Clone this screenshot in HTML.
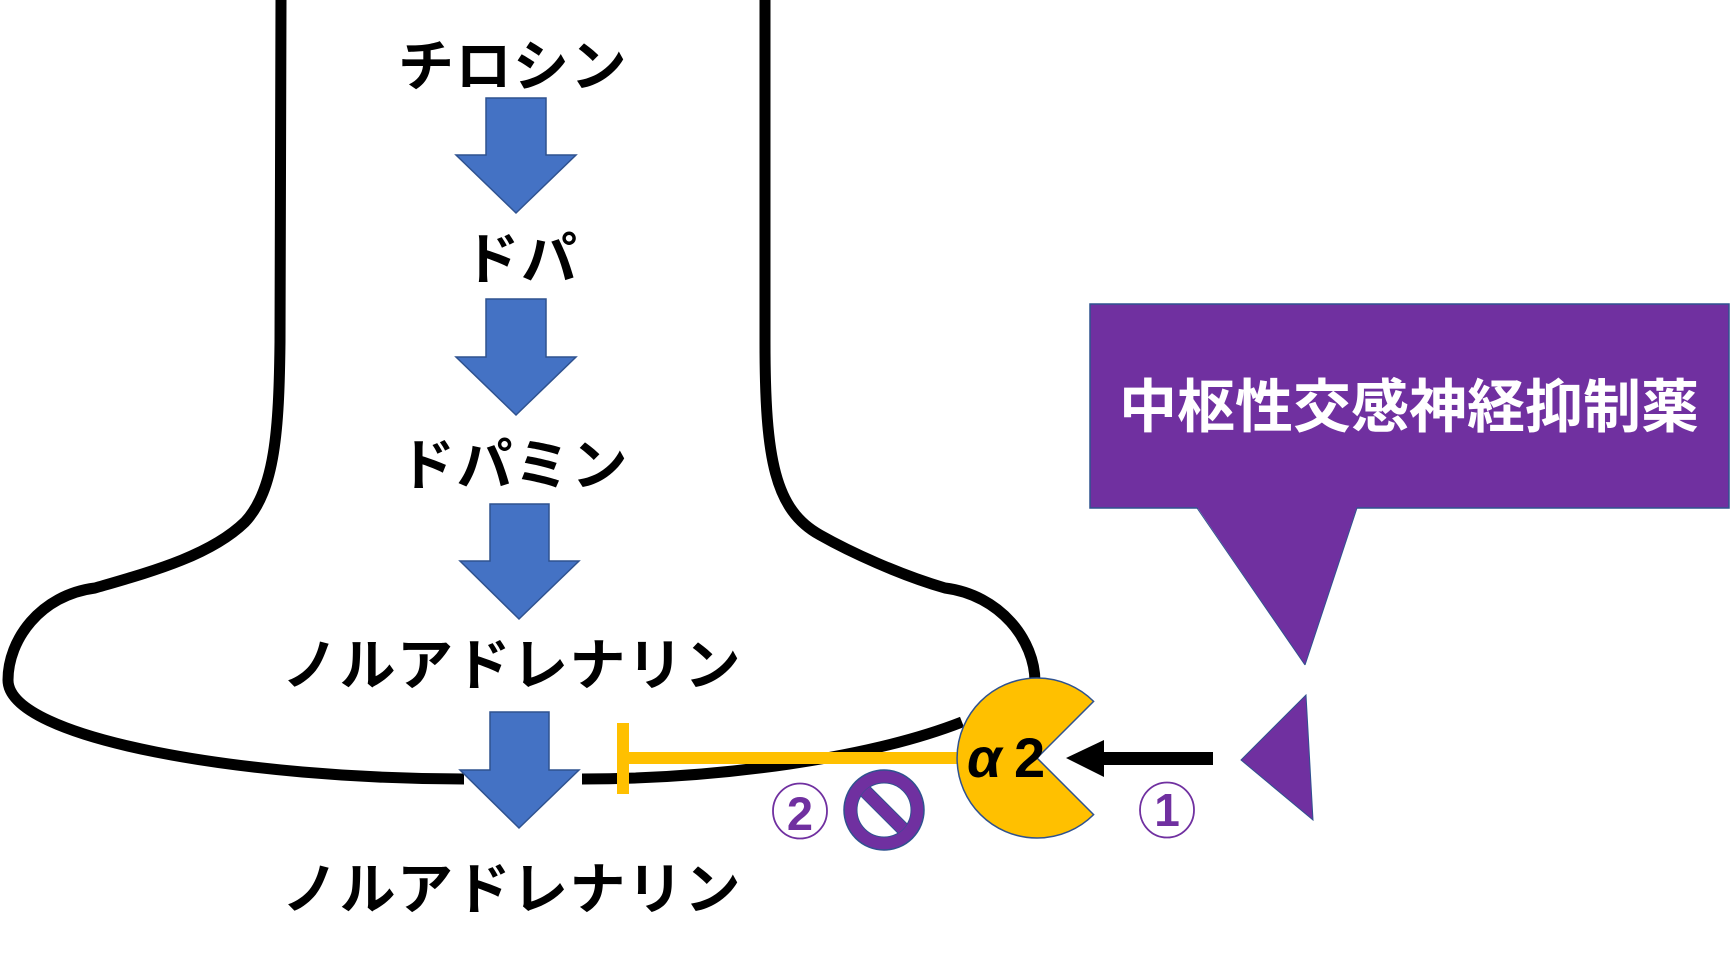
<!DOCTYPE html>
<html>
<head>
<meta charset="utf-8">
<style>
  html,body{margin:0;padding:0;background:#fff;}
  svg{display:block;}
  .kt{font-family:"Liberation Sans","Noto Sans CJK JP",sans-serif;font-weight:bold;font-size:56px;fill:#000;letter-spacing:1.5px;}
</style>
</head>
<body>
<svg width="1732" height="962" viewBox="0 0 1732 962" xmlns="http://www.w3.org/2000/svg">
  <rect width="1732" height="962" fill="#fff"/>

  <!-- neuron outline -->
  <g fill="none" stroke="#000" stroke-width="11">
    <path d="M281 0 L280 342 C279 430 275 490 245 522 C210 556 150 572 95 588 C40 595 8 640 8 680 C8 740 250 779 464 779"/>
    <path d="M582 779 C720 779 870 758 962 722"/>
    <path d="M765 0 L765 342 C765 460 775 510 820 535 C850 552 900 575 945 588 C1000 595 1035 640 1035 682"/>
  </g>

  <!-- blue block arrows -->
  <g fill="#4472C4" stroke="#2F528F" stroke-width="1.5">
    <polygon points="486,98 546,98 546,155 576,155 516,213 456,155 486,155"/>
    <polygon points="486,299 546,299 546,357 576,357 516,415 456,357 486,357"/>
    <polygon points="490,504 549,504 549,561 579,561 519,619 460,561 490,561"/>
    <polygon points="490,712 549,712 549,770 579,770 519,828 460,770 490,770"/>
  </g>

  <!-- katakana labels -->
  <text class="kt" x="513" y="86" text-anchor="middle">チロシン</text>
  <text class="kt" x="521" y="279" text-anchor="middle">ドパ</text>
  <text class="kt" x="514" y="485" text-anchor="middle">ドパミン</text>
  <text class="kt" x="512" y="685" text-anchor="middle">ノルアドレナリン</text>
  <text class="kt" x="512" y="909" text-anchor="middle">ノルアドレナリン</text>

  <!-- yellow inhibition T -->
  <rect x="617" y="723" width="12" height="71" fill="#FFC000"/>
  <rect x="617" y="752" width="345" height="12" fill="#FFC000"/>

  <!-- alpha2 receptor -->
  <path d="M1037 758 L1093.6 701.4 A80 80 0 1 0 1093.6 814.6 Z" fill="#FFC000" stroke="#2F528F" stroke-width="1.5"/>
  <text x="967" y="777" font-family="Liberation Sans, Noto Sans CJK JP, sans-serif" font-size="56" font-weight="bold" font-style="italic" fill="#000">α</text>
  <text x="1014" y="777" font-family="Liberation Sans, Noto Sans CJK JP, sans-serif" font-size="56" font-weight="bold" fill="#000">2</text>

  <!-- black arrow -->
  <rect x="1102" y="752" width="111" height="13" fill="#000"/>
  <polygon points="1066,758 1104,740 1104,777" fill="#000"/>

  <!-- circled numbers -->
  <ellipse cx="800" cy="811" rx="27" ry="27.5" fill="none" stroke="#7030A0" stroke-width="1.8"/>
  <text x="800" y="830" text-anchor="middle" font-family="Liberation Sans, sans-serif" font-weight="bold" font-size="47" fill="#7030A0">2</text>
  <ellipse cx="1167" cy="810" rx="27" ry="27.5" fill="none" stroke="#7030A0" stroke-width="1.8"/>
  <text x="1167" y="826" text-anchor="middle" font-family="Liberation Sans, sans-serif" font-weight="bold" font-size="46" fill="#7030A0">1</text>

  <!-- prohibition sign -->
  <defs>
    <clipPath id="hole"><circle cx="884" cy="810" r="27"/></clipPath>
  </defs>
  <circle cx="884" cy="810" r="40" fill="#7030A0" stroke="#2F528F" stroke-width="1.5"/>
  <circle cx="884" cy="810" r="27" fill="#fff" stroke="#2F528F" stroke-width="1"/>
  <g clip-path="url(#hole)">
    <rect x="877.5" y="776" width="13" height="68" fill="#7030A0" stroke="#2F528F" stroke-width="1" transform="rotate(-45 884 810)"/>
  </g>

  <!-- callout -->
  <rect x="1090" y="304" width="639" height="204" fill="#7030A0" stroke="#2F528F" stroke-width="1.5"/>
  <polygon points="1197,507 1357,507 1305,665" fill="#7030A0"/>
  <line x1="1197" y1="508" x2="1305" y2="665" stroke="#2F528F" stroke-width="1"/>
  <line x1="1357" y1="508" x2="1305" y2="665" stroke="#2F528F" stroke-width="1"/>
  <polygon points="1306,695 1241,760 1313,820" fill="#7030A0" stroke="#2F528F" stroke-width="1"/>
  <text x="1409" y="427" text-anchor="middle" font-family="Liberation Sans, Noto Sans CJK JP, sans-serif" font-weight="bold" font-size="58" fill="#fff">中枢性交感神経抑制薬</text>
</svg>
</body>
</html>
